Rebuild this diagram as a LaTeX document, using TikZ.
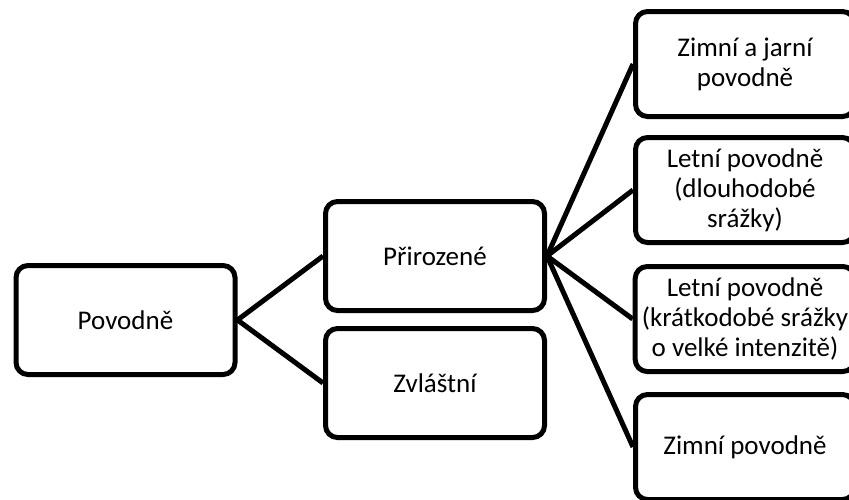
\documentclass[tikz,border=0pt]{standalone}
\usepackage{fontspec}
\setmainfont{Carlito}

\begin{document}
\begin{tikzpicture}[x=0.5pt,y=-0.5pt,auto,
    category/.style ={rectangle, draw, line width=2.5pt, rounded corners=6pt,
      minimum width=109.5pt, minimum height=54.5pt, align=center,
      font=\fontsize{13.5}{15}\selectfont},
    narrow/.style ={category, minimum height=52.5pt},
    branch/.style ={line width=2.5pt}]
   \useasboundingbox (0,0) rectangle (849,499);
   \clip (0,0) rectangle (849,499);
   \node[category] (A) at (125.5,320)  {Povodně};
   \node[category] (B) at (435,256)  {Přirozené};
   \node[category] (C) at (435,383)  {Zvláštní};
   \node[narrow] (D) at (745,64)  {Zimní a jarní\\povodně};
   \node[narrow] (E) at (745,190)  {Letní povodně\\(dlouhodobé\\srážky)};
   \node[narrow] (F) at (745,319)  {Letní povodně\\(krátkodobé srážky\\o velké intenzitě)};
   \node[narrow] (G) at (745,447)  {Zimní povodně};

   \draw[branch] (A.east) to  (B.west);
   \draw[branch] (A.east) to  (C.west);
   \draw[branch] (B.east) to  (D.west);
   \draw[branch] (B.east) to  (E.west);
   \draw[branch] (B.east) to  (F.west);
   \draw[branch] (B.east) to  (G.west);
 \end{tikzpicture}
\end{document}
